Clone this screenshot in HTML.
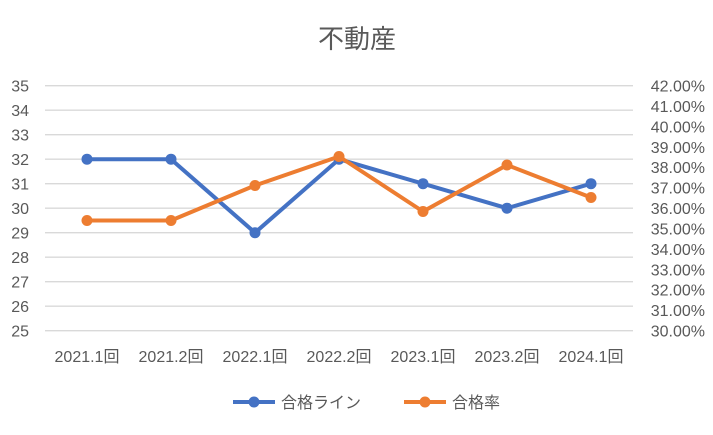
<!DOCTYPE html>
<html><head><meta charset="utf-8"><style>
body{margin:0;background:#fff;}
svg text{font-family:"Liberation Sans","Noto Sans CJK JP",sans-serif;fill:#595959;}
</style></head><body>
<svg width="713" height="430" viewBox="0 0 713 430" xmlns="http://www.w3.org/2000/svg">
<rect width="713" height="430" fill="#fff"/>
<text x="357" y="48" font-size="26" text-anchor="middle">不動産</text>
<g stroke="#d9d9d9" stroke-width="1.3">
<line x1="45" x2="633" y1="85.7" y2="85.7"/>
<line x1="45" x2="633" y1="110.2" y2="110.2"/>
<line x1="45" x2="633" y1="134.7" y2="134.7"/>
<line x1="45" x2="633" y1="159.2" y2="159.2"/>
<line x1="45" x2="633" y1="183.7" y2="183.7"/>
<line x1="45" x2="633" y1="208.2" y2="208.2"/>
<line x1="45" x2="633" y1="232.7" y2="232.7"/>
<line x1="45" x2="633" y1="257.2" y2="257.2"/>
<line x1="45" x2="633" y1="281.7" y2="281.7"/>
<line x1="45" x2="633" y1="306.2" y2="306.2"/>
<line x1="45" x2="633" y1="330.7" y2="330.7"/>
</g>
<g font-size="16" text-anchor="end">
<text x="29" y="91.5">35</text><text x="29" y="116">34</text><text x="29" y="140.5">33</text>
<text x="29" y="165">32</text><text x="29" y="189.5">31</text><text x="29" y="214">30</text>
<text x="29" y="238.5">29</text><text x="29" y="263">28</text><text x="29" y="287.5">27</text>
<text x="29" y="312">26</text><text x="29" y="336.5">25</text>
</g>
<g font-size="16" text-anchor="end">
<text x="705" y="91.5">42.00%</text><text x="705" y="111.9">41.00%</text><text x="705" y="132.3">40.00%</text>
<text x="705" y="152.8">39.00%</text><text x="705" y="173.2">38.00%</text><text x="705" y="193.6">37.00%</text>
<text x="705" y="214">36.00%</text><text x="705" y="234.4">35.00%</text><text x="705" y="254.8">34.00%</text>
<text x="705" y="275.3">33.00%</text><text x="705" y="295.7">32.00%</text><text x="705" y="316.1">31.00%</text>
<text x="705" y="336.5">30.00%</text>
</g>
<g font-size="16" text-anchor="middle">
<text x="87" y="362">2021.1回</text><text x="171" y="362">2021.2回</text><text x="255" y="362">2022.1回</text>
<text x="339" y="362">2022.2回</text><text x="423" y="362">2023.1回</text><text x="507" y="362">2023.2回</text>
<text x="591" y="362">2024.1回</text>
</g>
<g stroke="#4472c4" stroke-width="4" fill="none" stroke-linejoin="round">
<polyline points="87,159.2 171,159.2 255,232.7 339,159.2 423,183.7 507,208.2 591,183.7"/>
</g>
<g fill="#4472c4">
<circle cx="87" cy="159.2" r="5.5"/><circle cx="171" cy="159.2" r="5.5"/><circle cx="255" cy="232.7" r="5.5"/>
<circle cx="339" cy="159.2" r="5.5"/><circle cx="423" cy="183.7" r="5.5"/><circle cx="507" cy="208.2" r="5.5"/>
<circle cx="591" cy="183.7" r="5.5"/>
</g>
<g stroke="#ed7d31" stroke-width="4" fill="none" stroke-linejoin="round">
<polyline points="87,220.5 171,220.5 255,185.5 339,156.5 423,211.5 507,165 591,197.5"/>
</g>
<g fill="#ed7d31">
<circle cx="87" cy="220.5" r="5.5"/><circle cx="171" cy="220.5" r="5.5"/><circle cx="255" cy="185.5" r="5.5"/>
<circle cx="339" cy="156.5" r="5.5"/><circle cx="423" cy="211.5" r="5.5"/><circle cx="507" cy="165" r="5.5"/>
<circle cx="591" cy="197.5" r="5.5"/>
</g>
<line x1="233" x2="275" y1="402" y2="402" stroke="#4472c4" stroke-width="4"/>
<circle cx="254" cy="402" r="5.5" fill="#4472c4"/>
<text x="281" y="408" font-size="16">合格ライン</text>
<line x1="404" x2="446" y1="402" y2="402" stroke="#ed7d31" stroke-width="4"/>
<circle cx="425" cy="402" r="5.5" fill="#ed7d31"/>
<text x="452" y="408" font-size="16">合格率</text>
</svg>
</body></html>
